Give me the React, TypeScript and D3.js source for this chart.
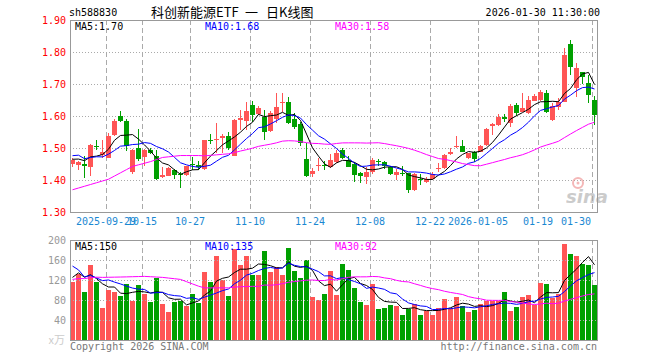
import React from 'react';
import * as d3 from 'd3';

const dates = [
  '2025-09-19','2025-09-22','2025-09-23','2025-09-24','2025-09-25','2025-09-26','2025-09-29','2025-09-30',
  '2025-10-09','2025-10-10','2025-10-13','2025-10-14','2025-10-15','2025-10-16','2025-10-17','2025-10-20',
  '2025-10-21','2025-10-22','2025-10-23','2025-10-24','2025-10-27','2025-10-28','2025-10-29','2025-10-30',
  '2025-10-31','2025-11-03','2025-11-04','2025-11-05','2025-11-06','2025-11-07','2025-11-10','2025-11-11',
  '2025-11-12','2025-11-13','2025-11-14','2025-11-17','2025-11-18','2025-11-19','2025-11-20','2025-11-21',
  '2025-11-24','2025-11-25','2025-11-26','2025-11-27','2025-11-28','2025-12-01','2025-12-02','2025-12-03',
  '2025-12-04','2025-12-05','2025-12-08','2025-12-09','2025-12-10','2025-12-11','2025-12-12','2025-12-15',
  '2025-12-16','2025-12-17','2025-12-18','2025-12-19','2025-12-22','2025-12-23','2025-12-24','2025-12-25',
  '2025-12-26','2025-12-29','2025-12-30','2025-12-31','2026-01-05','2026-01-06','2026-01-07','2026-01-08',
  '2026-01-09','2026-01-12','2026-01-13','2026-01-14','2026-01-15','2026-01-16','2026-01-19','2026-01-20',
  '2026-01-21','2026-01-22','2026-01-23','2026-01-26','2026-01-27','2026-01-28','2026-01-29','2026-01-30',
];

const opens = [
  1.451,1.448,1.451,1.440,1.507,1.479,1.470,1.541,1.600,1.585,
  1.425,1.500,1.472,1.494,1.476,1.410,1.414,1.432,1.418,1.417,
  1.451,1.448,1.433,1.526,1.524,1.531,1.538,1.476,1.587,1.585,
  1.634,1.606,1.596,1.553,1.590,1.640,1.645,1.590,1.575,1.466,
  1.420,1.446,1.448,1.440,1.455,1.494,1.462,1.450,1.421,1.410,
  1.426,1.458,1.457,1.442,1.416,1.422,1.421,1.369,1.402,1.395,
  1.402,1.435,1.436,1.481,1.504,1.506,1.468,1.489,1.489,1.509,
  1.569,1.572,1.596,1.579,1.634,1.614,1.608,1.648,1.650,1.673,
  1.588,1.627,1.645,1.825,1.686,1.736,1.704,1.650,
];
const highs = [
  1.468,1.458,1.474,1.512,1.526,1.525,1.547,1.592,1.617,1.592,
  1.497,1.560,1.497,1.499,1.494,1.442,1.440,1.434,1.426,1.445,
  1.473,1.460,1.526,1.545,1.577,1.543,1.551,1.590,1.620,1.645,
  1.647,1.630,1.619,1.617,1.671,1.671,1.658,1.608,1.580,1.515,
  1.437,1.469,1.460,1.482,1.494,1.500,1.475,1.455,1.424,1.440,
  1.470,1.465,1.460,1.444,1.433,1.443,1.423,1.422,1.419,1.410,
  1.426,1.454,1.480,1.499,1.537,1.525,1.485,1.491,1.509,1.564,
  1.577,1.605,1.606,1.637,1.640,1.673,1.662,1.669,1.681,1.681,
  1.640,1.655,1.811,1.838,1.765,1.738,1.728,1.663,
];
const lows = [
  1.442,1.430,1.406,1.413,1.495,1.470,1.468,1.538,1.580,1.490,
  1.420,1.458,1.443,1.480,1.400,1.405,1.412,1.402,1.375,1.412,
  1.430,1.432,1.432,1.513,1.484,1.483,1.495,1.474,1.556,1.556,
  1.582,1.603,1.525,1.550,1.577,1.613,1.575,1.560,1.506,1.410,
  1.408,1.427,1.431,1.438,1.452,1.466,1.440,1.393,1.390,1.387,
  1.420,1.443,1.435,1.415,1.400,1.412,1.360,1.366,1.384,1.390,
  1.400,1.426,1.434,1.479,1.499,1.487,1.466,1.457,1.487,1.507,
  1.540,1.570,1.580,1.567,1.600,1.612,1.606,1.646,1.648,1.608,
  1.583,1.619,1.643,1.728,1.658,1.700,1.640,1.572,
];
const closes = [
  1.461,1.455,1.445,1.510,1.502,1.486,1.538,1.585,1.585,1.507,
  1.495,1.467,1.495,1.485,1.403,1.416,1.437,1.417,1.416,1.443,
  1.446,1.440,1.524,1.521,1.527,1.538,1.500,1.587,1.595,1.617,
  1.603,1.624,1.551,1.610,1.627,1.645,1.577,1.565,1.517,1.414,
  1.429,1.448,1.444,1.463,1.483,1.470,1.442,1.417,1.412,1.426,
  1.462,1.455,1.445,1.419,1.426,1.420,1.369,1.419,1.399,1.402,
  1.419,1.437,1.478,1.489,1.506,1.489,1.483,1.465,1.506,1.558,
  1.575,1.598,1.590,1.631,1.610,1.624,1.650,1.663,1.675,1.612,
  1.630,1.643,1.792,1.752,1.749,1.721,1.667,1.603,
];
const volumes = [
  117,133,97,150,117,65,101,97,88,113,
  78,110,92,77,125,72,56,77,78,68,
  92,75,137,117,168,120,88,182,150,168,
  130,130,178,137,147,130,185,139,125,160,
  87,80,92,139,90,152,141,105,77,70,
  112,62,65,70,68,50,63,72,50,59,
  50,65,83,65,87,68,56,60,72,78,
  78,78,97,59,67,87,90,70,115,112,
  85,92,192,172,168,152,150,110,
];
// trading days before the visible window (needed for the moving averages)
const priorCloses = [
  1.290,1.280,1.345,1.337,1.321,1.373,1.285,1.285,1.207,1.195,
  1.317,1.345,1.335,1.208,1.221,1.377,1.357,1.356,1.443,1.446,
  1.440,1.554,1.473,1.479,1.490,1.452,1.470,1.450,1.491,
];
const priorVolumes = [
  80,100,95,87,77,94,90,80,105,68,
  100,82,97,145,92,96,117,120,203,227,
  210,240,117,168,118,88,140,125,156,
];

const tickDates = ['2025-09-29','2025-10-15','2025-10-27','2025-11-10','2025-11-24','2025-12-08','2025-12-22','2026-01-05','2026-01-19','2026-01-30'];
const tickLabels = ['2025-09-29','10-15','10-27','11-10','11-24','12-08','12-22','2026-01-05','01-19','01-30'];
const priceTicks = [1.9, 1.8, 1.7, 1.6, 1.5, 1.4, 1.3];
const volumeTicks = [200, 160, 120, 80, 40];
const maPeriods = [5, 10, 30];
const maColors = ['#000000', '#0000ff', '#ff00ff'];
const titleParts = ['科创新能源ETF', '一', '日K线图'];

const RED = '#ff5555';
const GREEN = '#00a000';
const GRID = '#aaaaaa';
const MONO = '"DejaVu Sans Mono", "Liberation Mono", monospace';
const CJK = '"Noto Sans CJK SC", sans-serif';

function movingAverage(prior: number[], values: number[], n: number): number[] {
  const all = prior.concat(values);
  const off = prior.length;
  return values.map((_, i) => d3.mean(all.slice(off + i - n + 1, off + i + 1)) as number);
}

export default function App() {
  const n = dates.length;
  const L = 70, R = 598;
  const x = d3.scaleLinear().domain([0, n]).range([L, R]);
  const yP = d3.scaleLinear().domain([1.3, 1.9]).range([212, 20]);
  const yV = d3.scaleLinear().domain([0, 200]).range([340, 240]);
  const cx = (i: number) => x(i) + 2.5;

  const priceMA = maPeriods.map((p) => movingAverage(priorCloses, closes, p));
  const volMA = maPeriods.map((p) => movingAverage(priorVolumes, volumes, p));

  const lineP = d3.line<number>().x((_, i) => cx(i)).y((d) => yP(d));
  const lineV = d3.line<number>().x((_, i) => cx(i)).y((d) => yV(d));

  const tickIdx = tickDates.map((d) => dates.indexOf(d));
  const legendX = [75, 205, 335];
  const titleX = [151, 245, 266];

  return (
    <svg width={660} height={360} style={{ position: 'absolute', left: 0, top: 0, background: '#fff' }}
      fontFamily={MONO} fontSize={10}>
      <rect x={0} y={0} width={660} height={360} fill="#fff" />
      {/* header */}
      <text x={69} y={16} fill="#000">sh588830</text>
      {titleParts.map((t, k) => (
        <text key={'t' + k} x={titleX[k]} y={17} fontFamily={CJK} fontSize={13} fill="#000">{t}</text>
      ))}
      <text x={600} y={16} textAnchor="end" fill="#000">2026-01-30 11:30:00</text>

      {/* price grid */}
      {priceTicks.map((t) => (
        <g key={'p' + t}>
          {t < 1.9 && t > 1.3 && (
            <line x1={L} x2={597} y1={Math.round(yP(t)) + 0.5} y2={Math.round(yP(t)) + 0.5}
              stroke={GRID} strokeDasharray="1,2" />
          )}
          <text x={66} y={yP(t) + 4} textAnchor="end" fill="#ff0000">{t.toFixed(2)}</text>
        </g>
      ))}
      {tickIdx.map((ti, k) => (
        <g key={'v' + k}>
          <line x1={x(ti) + 0.5} x2={x(ti) + 0.5} y1={20} y2={212} stroke={GRID} strokeDasharray="5,3" />
          <line x1={x(ti) + 0.5} x2={x(ti) + 0.5} y1={240} y2={340} stroke={GRID} strokeDasharray="5,3" />
          <text x={Math.min(x(ti), 576)} y={225} textAnchor="middle" fill="#1a88d2">{tickLabels[k]}</text>
        </g>
      ))}

      {/* watermark */}
      <g opacity={0.6}>
        <circle cx={578} cy={183} r={5} fill="none" stroke="#e88" strokeWidth={2} />
        <circle cx={578} cy={183} r={1.5} fill="#e88" />
        <text x={566} y={203} fontFamily='"DejaVu Sans", sans-serif' fontStyle="italic" fontWeight="bold"
          fontSize={18} fill="#aaa">sina</text>
      </g>

      {/* candles */}
      {closes.map((c, i) => {
        const o = opens[i];
        const up = c >= o;
        const col = up ? RED : GREEN;
        const top = Math.round(yP(Math.max(o, c)));
        const bot = Math.round(yP(Math.min(o, c)));
        const hi = Math.round(yP(highs[i]));
        const lo = Math.round(yP(lows[i]));
        return (
          <g key={'c' + i}>
            <rect x={x(i) + 2} y={hi} width={1} height={Math.max(1, lo - hi)} fill={col} />
            <rect x={x(i)} y={top} width={5} height={Math.max(1, bot - top)} fill={col} />
          </g>
        );
      })}
      {priceMA.map((m, k) => (
        <path key={'pm' + k} d={lineP(m) || ''} fill="none" stroke={maColors[k]} strokeWidth={1} />
      ))}

      {/* volume bars */}
      {volumes.map((v, i) => {
        const up = closes[i] >= opens[i];
        const top = Math.round(yV(v));
        return <rect key={'b' + i} x={x(i)} y={top} width={5} height={340 - top} fill={up ? RED : GREEN} />;
      })}
      {volumeTicks.map((t) => (
        <g key={'vt' + t}>
          {t < 200 && (
            <line x1={L} x2={597} y1={yV(t) + 0.5} y2={yV(t) + 0.5} stroke={GRID} strokeDasharray="1,2" />
          )}
          <text x={66} y={yV(t) + 4} textAnchor="end" fill="#999">{t}</text>
        </g>
      ))}
      <text x={65} y={344} textAnchor="end" fill="#ccc" fontFamily={CJK} fontSize={11}>x万</text>
      {volMA.map((m, k) => (
        <path key={'vm' + k} d={lineV(m) || ''} fill="none" stroke={maColors[k]} strokeWidth={1} />
      ))}

      {/* frames */}
      <rect x={70.5} y={20.5} width={527} height={192} fill="none" stroke="#999" />
      <rect x={70.5} y={240.5} width={527} height={100} fill="none" stroke="#999" />

      {/* legends */}
      {maPeriods.map((p, k) => (
        <text key={'lp' + k} x={legendX[k]} y={30} fill={maColors[k]}>
          {'MA' + p + ':' + priceMA[k][n - 1].toFixed(2)}
        </text>
      ))}
      {maPeriods.map((p, k) => (
        <text key={'lv' + k} x={legendX[k]} y={250} fill={maColors[k]}>
          {'MA' + p + ':' + Math.round(volMA[k][n - 1])}
        </text>
      ))}

      <text x={70} y={350} fill="#777">Copyright 2026 SINA.COM</text>
      <text x={597} y={350} textAnchor="end" fill="#777">http://finance.sina.com.cn</text>
    </svg>
  );
}
